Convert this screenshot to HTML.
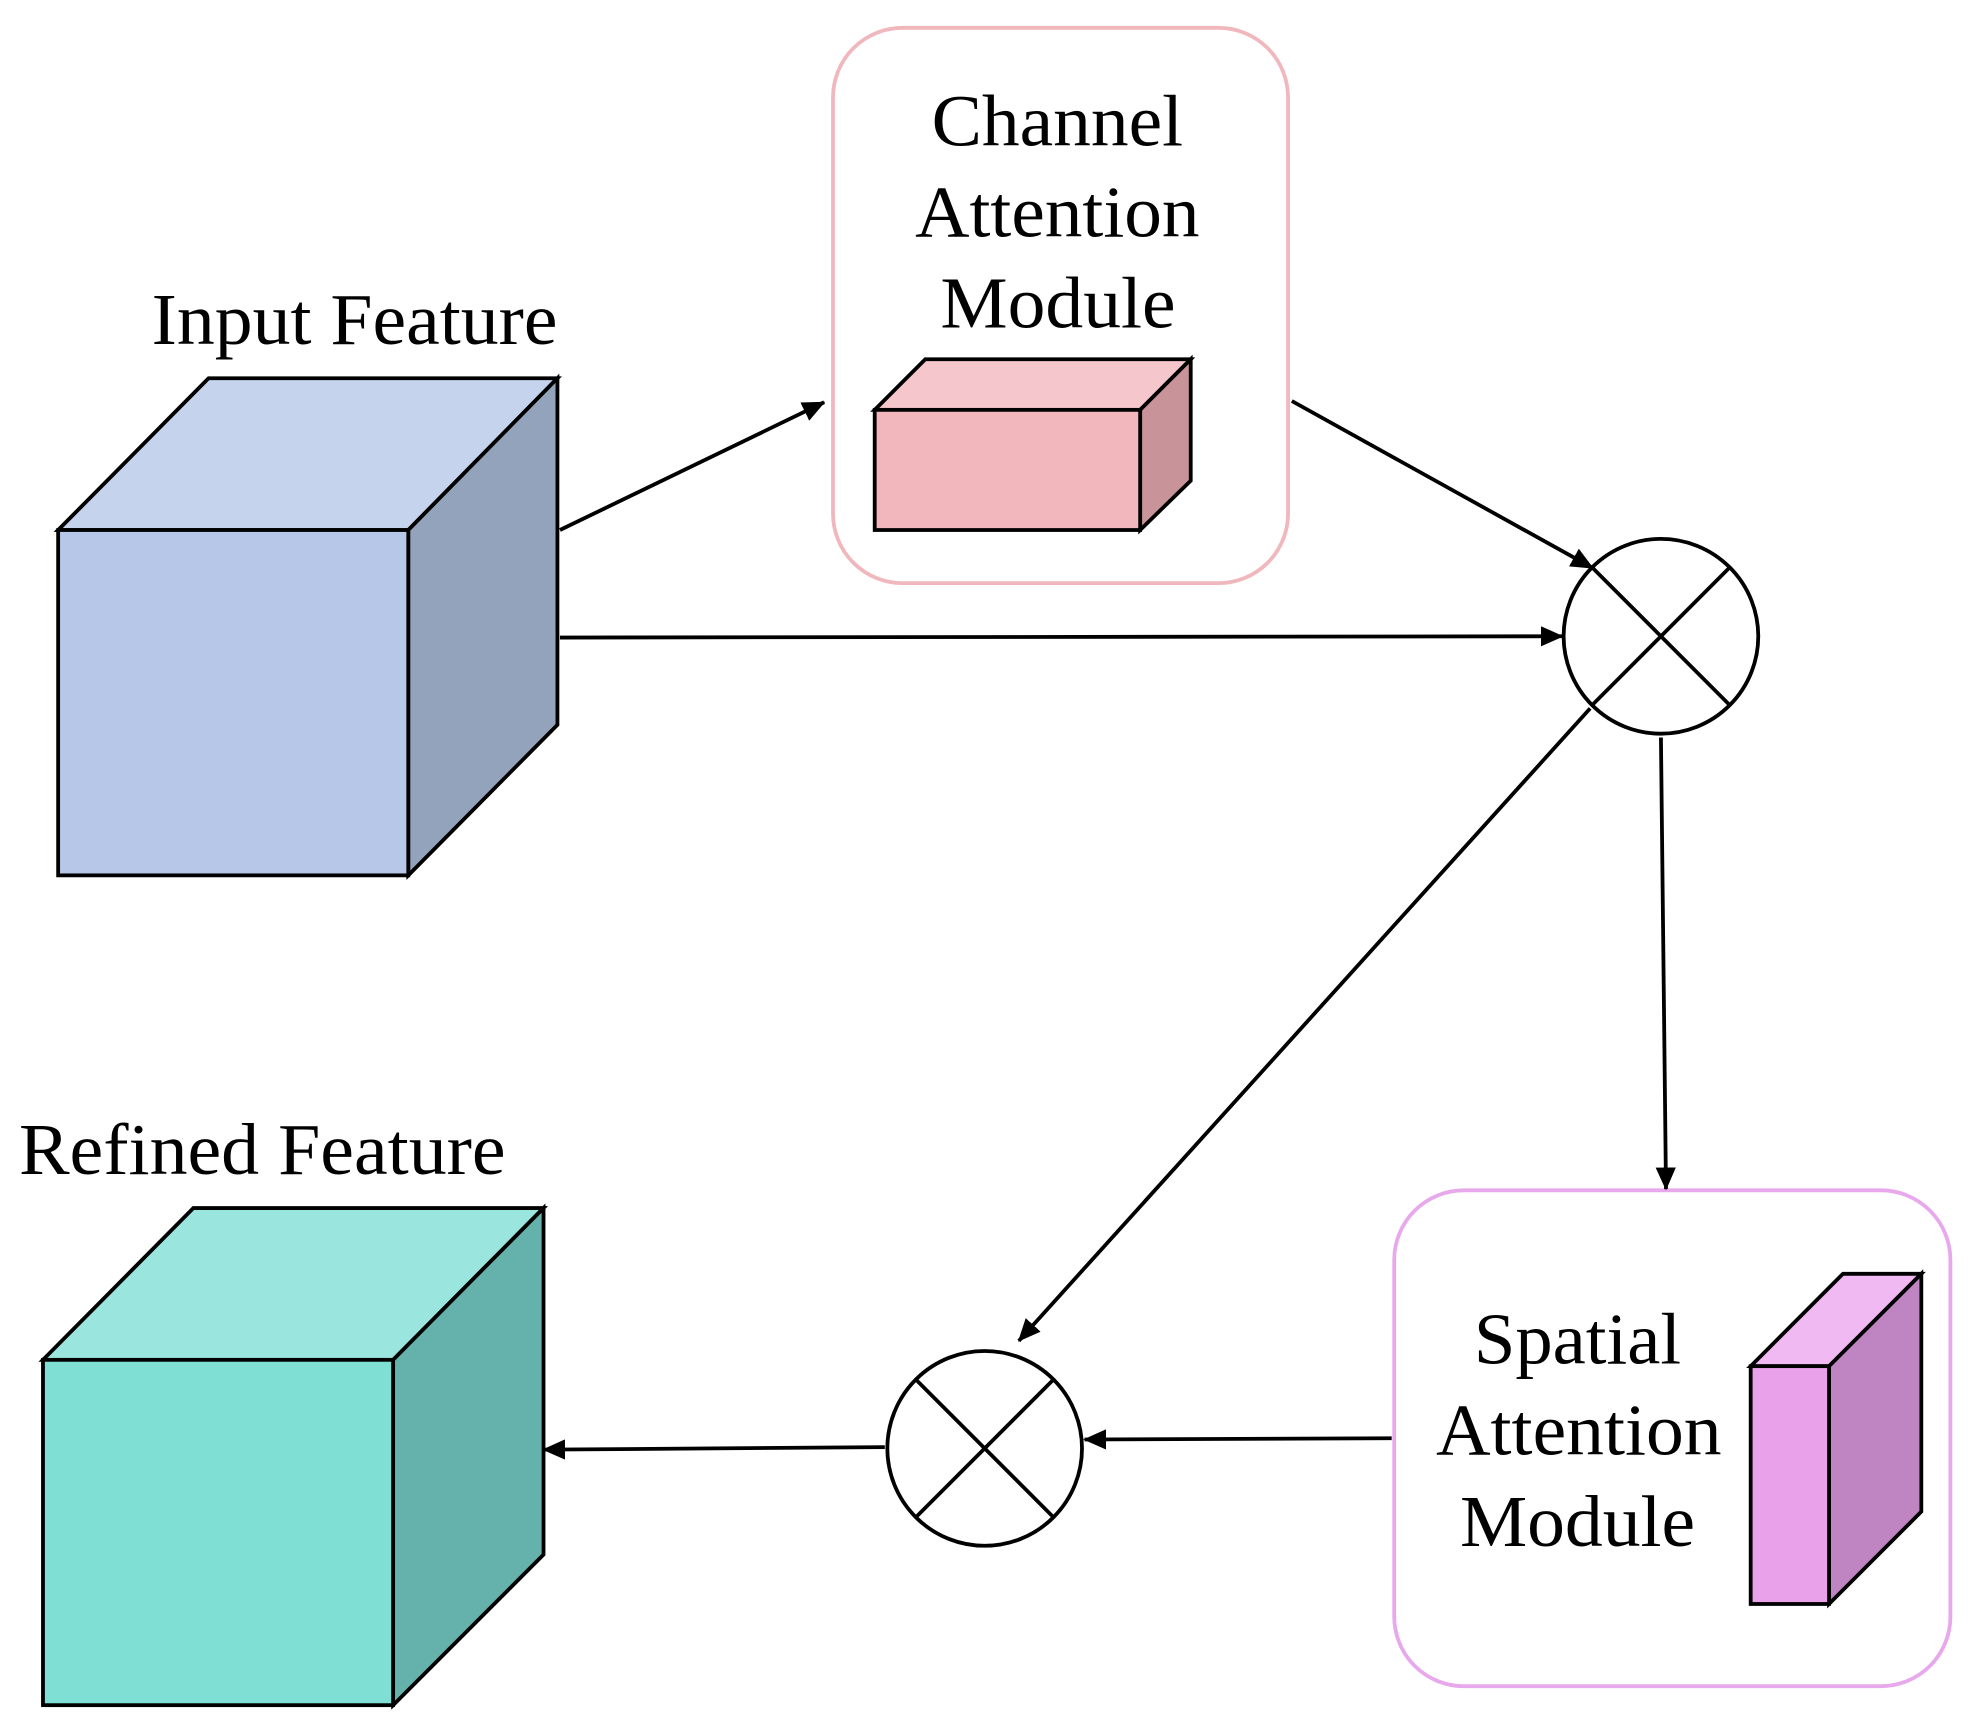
<!DOCTYPE html>
<html><head><style>html,body{margin:0;padding:0;background:#fff}svg{display:block}</style></head><body>
<svg width="1982" height="1733" viewBox="0 0 1568 1370" preserveAspectRatio="none" xmlns="http://www.w3.org/2000/svg">
<defs>
<marker id="b" markerWidth="18" markerHeight="16" refX="17" refY="8" orient="auto" markerUnits="userSpaceOnUse"><path d="M0,0 L18,8 L0,16 z" fill="#000"/></marker></defs>
<g font-family="Liberation Serif, serif" font-size="58" fill="#000" lengthAdjust="spacingAndGlyphs">
<text x="120" y="272" textLength="321" lengthAdjust="spacingAndGlyphs">Input Feature</text>
<text x="15" y="928" textLength="385" lengthAdjust="spacingAndGlyphs">Refined Feature</text>
<text x="737" y="115" textLength="199" lengthAdjust="spacingAndGlyphs">Channel</text>
<text x="724" y="187" textLength="225" lengthAdjust="spacingAndGlyphs">Attention</text>
<text x="744" y="259" textLength="186" lengthAdjust="spacingAndGlyphs">Module</text>
<text x="1166" y="1078" textLength="164" lengthAdjust="spacingAndGlyphs">Spatial</text>
<text x="1136" y="1150" textLength="226" lengthAdjust="spacingAndGlyphs">Attention</text>
<text x="1155" y="1222" textLength="186" lengthAdjust="spacingAndGlyphs">Module</text>
</g>
<rect x="659" y="22" width="360" height="439" rx="55" fill="none" stroke="#f0b7bc" stroke-width="3"/>
<rect x="1103" y="941" width="440" height="392" rx="55" fill="none" stroke="#e8a8ec" stroke-width="3"/>
<g stroke="#000" stroke-width="3" stroke-linejoin="miter">
<polygon points="46,419 165,299 441,299 323,419" fill="#c5d3ed"/>
<polygon points="323,419 441,299 441,573 323,692" fill="#93a3bc"/>
<rect x="46" y="419" width="277" height="273" fill="#b6c7e8"/>
<polygon points="34,1075 153,955 430,955 311,1075" fill="#9be5df"/>
<polygon points="311,1075 430,955 430,1229 311,1348" fill="#64b2ab"/>
<rect x="34" y="1075" width="277" height="273" fill="#80dfd5"/>
<polygon points="692,324 732,284 942,284 902,324" fill="#f5c6cc"/>
<polygon points="902,324 942,284 942,380 902,419" fill="#c89499"/>
<rect x="692" y="324" width="210" height="95" fill="#f2b6bd"/>
<polygon points="1385,1080 1458,1007 1520,1007 1447,1080" fill="#f0b9f2"/>
<polygon points="1447,1080 1520,1007 1520,1195 1447,1268" fill="#bf84c2"/>
<rect x="1385" y="1080" width="62" height="188" fill="#e9a2ea"/>
<circle cx="1314" cy="503" r="77" fill="#fff"/>
<line x1="1260" y1="449" x2="1368" y2="557"/><line x1="1368" y1="449" x2="1260" y2="557"/>
<circle cx="779" cy="1145" r="77" fill="#fff"/>
<line x1="725" y1="1091" x2="833" y2="1199"/><line x1="833" y1="1091" x2="725" y2="1199"/>
</g>
<g stroke="#000" stroke-width="3" fill="none" marker-end="url(#b)">
<line x1="443" y1="419" x2="652" y2="318"/>
<line x1="1022" y1="317" x2="1260" y2="449"/>
<line x1="443" y1="504" x2="1236" y2="503"/>
<line x1="1314" y1="583" x2="1318" y2="940"/>
<line x1="1258" y1="560" x2="806" y2="1060"/>
<line x1="1101" y1="1137" x2="858" y2="1138"/>
<line x1="700" y1="1144" x2="430" y2="1146"/>
</g>
</svg>
</body></html>
